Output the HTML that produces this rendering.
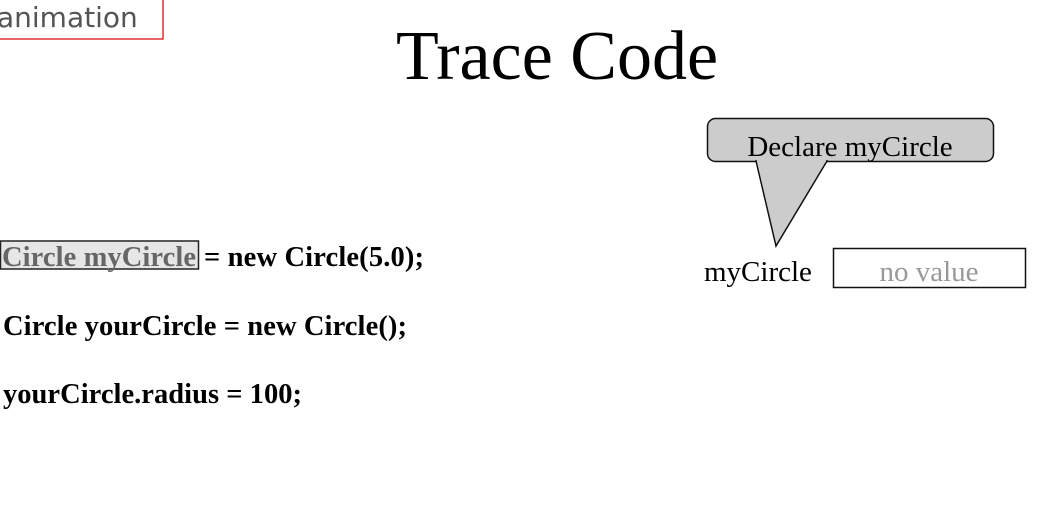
<!DOCTYPE html>
<html><head><meta charset="utf-8"><style>html,body{margin:0;padding:0;background:#fff;width:1059px;height:507px;overflow:hidden}</style></head><body>
<svg width="1059" height="507" xmlns="http://www.w3.org/2000/svg">
<rect x="-5" y="-5" width="168" height="44" fill="#fff" stroke="#e03030" stroke-width="1.5"/>
<text x="-3" y="27" font-family="DejaVu Sans, sans-serif" font-size="28" fill="#555">animation</text>
<text x="557" y="79" text-anchor="middle" font-family="Liberation Serif, serif" font-size="70">Trace Code</text>
<rect x="0.5" y="241" width="198" height="28" fill="#e6e6e6" stroke="#222" stroke-width="1.5"/>
<g font-family="Liberation Serif, serif" font-size="28.5" font-weight="bold">
<text x="2" y="266" fill="#666" textLength="194">Circle myCircle</text>
<text x="204" y="266" textLength="220">= new Circle(5.0);</text>
<text x="3" y="335" textLength="404">Circle yourCircle = new Circle();</text>
<text x="3" y="403" textLength="299">yourCircle.radius = 100;</text>
</g>
<rect x="707.5" y="118.5" width="286" height="43" rx="8" fill="#cccccc" stroke="#111" stroke-width="1.5"/>
<path d="M756 161 L776 246 L827 161 Z" fill="#cccccc" stroke="#111" stroke-width="1.5"/>
<path d="M757 161 L826 161" stroke="#cccccc" stroke-width="2"/>
<text x="850" y="156" text-anchor="middle" font-family="Liberation Serif, serif" font-size="29">Declare myCircle</text>
<text x="704" y="281" font-family="Liberation Serif, serif" font-size="29">myCircle</text>
<rect x="833.5" y="248.5" width="192" height="39" fill="#fff" stroke="#111" stroke-width="1.5"/>
<text x="929" y="281" text-anchor="middle" font-family="Liberation Serif, serif" font-size="29" fill="#999">no value</text>
</svg>
</body></html>
